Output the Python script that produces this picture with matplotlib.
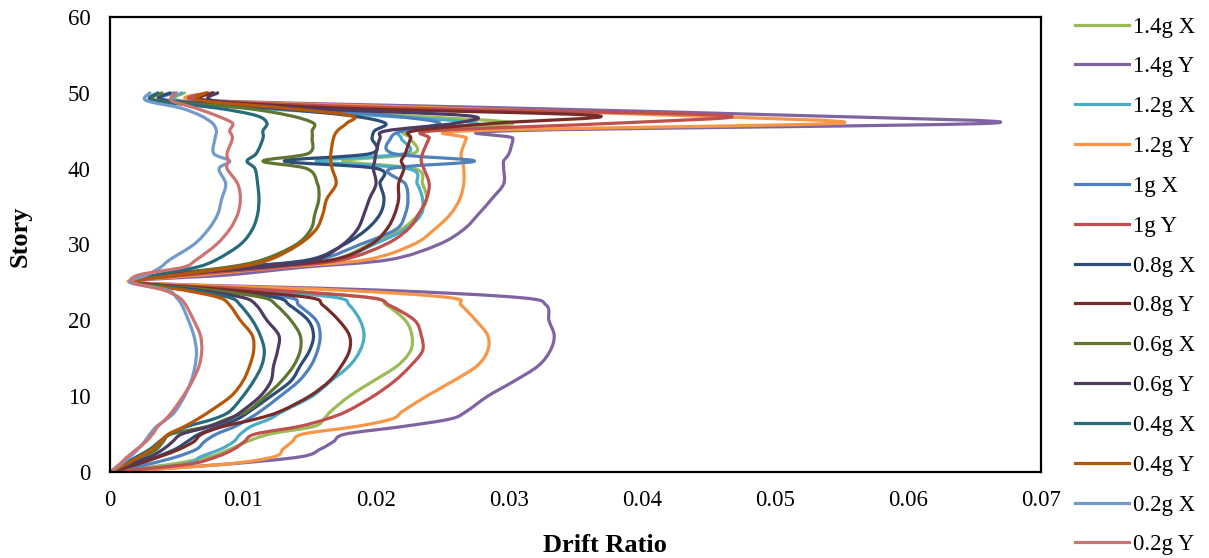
import numpy as np
import matplotlib
matplotlib.use("Agg")
import matplotlib.pyplot as plt
from matplotlib.path import Path
from matplotlib.patches import PathPatch
from matplotlib.lines import Line2D

plt.rcParams['font.family'] = ['Liberation Serif', 'DejaVu Serif']

# Story levels at which drift ratios are listed
stories = [0, 1, 2, 3, 4, 5, 6, 7, 8, 10, 12, 14, 16, 18, 20, 22, 23, 24, 25,
           26, 27, 28, 30, 32, 34, 36, 38, 40, 41, 42, 44, 45, 46, 47, 48, 49, 50]

drift_14g_x = [0, 0.0045, 0.0075, 0.0090, 0.0103, 0.0120, 0.0153, 0.0161, 0.0166, 0.0180, 0.0198, 0.0216, 0.0226,
               0.0227, 0.0222, 0.0208, 0.0195, 0.0120, 0.0017, 0.0055, 0.0120, 0.0168, 0.0195, 0.0219, 0.0232,
               0.0238, 0.0235, 0.0229, 0.0175, 0.0228, 0.0226, 0.0226, 0.0303, 0.0220, 0.0120, 0.0052, 0.0056]
drift_14g_y = [0, 0.0085, 0.0143, 0.0158, 0.0168, 0.0177, 0.0220, 0.0256, 0.0268, 0.0284, 0.0304, 0.0322, 0.0331,
               0.0334, 0.0330, 0.0328, 0.0308, 0.0200, 0.0017, 0.0090, 0.0145, 0.0210, 0.0247, 0.0266, 0.0277,
               0.0287, 0.0296, 0.0296, 0.0296, 0.0300, 0.0303, 0.0301, 0.0663, 0.0520, 0.0300, 0.0072, 0.0078]
drift_12g_x = [0, 0.0055, 0.0068, 0.0083, 0.0093, 0.0098, 0.0106, 0.0120, 0.0130, 0.0152, 0.0166, 0.0180, 0.0188,
               0.0191, 0.0188, 0.0180, 0.0170, 0.0110, 0.0017, 0.0050, 0.0110, 0.0170, 0.0198, 0.0222, 0.0234,
               0.0235, 0.0231, 0.0224, 0.0155, 0.0222, 0.0219, 0.0221, 0.0276, 0.0200, 0.0110, 0.0050, 0.0054]
drift_12g_y = [0, 0.0085, 0.0123, 0.0130, 0.0137, 0.0145, 0.0185, 0.0212, 0.0220, 0.0238, 0.0258, 0.0276, 0.0284,
               0.0284, 0.0275, 0.0264, 0.0255, 0.0170, 0.0017, 0.0070, 0.0130, 0.0193, 0.0228, 0.0244, 0.0256,
               0.0263, 0.0266, 0.0266, 0.0265, 0.0264, 0.0268, 0.0271, 0.0548, 0.0430, 0.0250, 0.0068, 0.0074]
drift_10g_x = [0, 0.0028, 0.0050, 0.0065, 0.0071, 0.0080, 0.0094, 0.0104, 0.0113, 0.0128, 0.0142, 0.0151, 0.0156,
               0.0158, 0.0155, 0.0142, 0.0135, 0.0085, 0.0017, 0.0045, 0.0100, 0.0156, 0.0188, 0.0215, 0.0222,
               0.0224, 0.0222, 0.0211, 0.0274, 0.0213, 0.0211, 0.0220, 0.0248, 0.0210, 0.0140, 0.0044, 0.0048]
drift_10g_y = [0, 0.0058, 0.0080, 0.0093, 0.0101, 0.0109, 0.0142, 0.0163, 0.0178, 0.0198, 0.0214, 0.0226, 0.0235,
               0.0234, 0.0229, 0.0210, 0.0195, 0.0120, 0.0017, 0.0060, 0.0125, 0.0175, 0.0207, 0.0224, 0.0232,
               0.0238, 0.0240, 0.0236, 0.0234, 0.0235, 0.0240, 0.0244, 0.0380, 0.0462, 0.0220, 0.0069, 0.0073]
drift_08g_x = [0, 0.0018, 0.0035, 0.0049, 0.0058, 0.0067, 0.0082, 0.0096, 0.0105, 0.0121, 0.0136, 0.0143, 0.0150,
               0.0153, 0.0149, 0.0135, 0.0125, 0.0080, 0.0017, 0.0045, 0.0095, 0.0150, 0.0176, 0.0193, 0.0203,
               0.0206, 0.0203, 0.0201, 0.0131, 0.0196, 0.0197, 0.0199, 0.0207, 0.0180, 0.0120, 0.0041, 0.0045]
drift_08g_y = [0, 0.0020, 0.0037, 0.0052, 0.0063, 0.0069, 0.0085, 0.0110, 0.0128, 0.0150, 0.0165, 0.0174, 0.0180,
               0.0180, 0.0172, 0.0160, 0.0150, 0.0090, 0.0017, 0.0050, 0.0110, 0.0168, 0.0196, 0.0208, 0.0214,
               0.0217, 0.0217, 0.0221, 0.0219, 0.0222, 0.0226, 0.0229, 0.0290, 0.0366, 0.0170, 0.0073, 0.0077]
drift_06g_x = [0, 0.0012, 0.0025, 0.0035, 0.0040, 0.0046, 0.0073, 0.0088, 0.0103, 0.0117, 0.0129, 0.0138, 0.0143,
               0.0143, 0.0136, 0.0125, 0.0115, 0.0075, 0.0017, 0.0040, 0.0088, 0.0115, 0.0140, 0.0151, 0.0154,
               0.0157, 0.0156, 0.0148, 0.0115, 0.0149, 0.0152, 0.0152, 0.0153, 0.0135, 0.0100, 0.0035, 0.0039]
drift_06g_y = [0, 0.0015, 0.0030, 0.0040, 0.0047, 0.0054, 0.0075, 0.0090, 0.0099, 0.0113, 0.0121, 0.0123, 0.0126,
               0.0127, 0.0118, 0.0110, 0.0100, 0.0065, 0.0017, 0.0040, 0.0115, 0.0155, 0.0175, 0.0186, 0.0191,
               0.0195, 0.0200, 0.0198, 0.0199, 0.0200, 0.0203, 0.0208, 0.0260, 0.0268, 0.0140, 0.0077, 0.0081]
drift_04g_x = [0, 0.0010, 0.0020, 0.0030, 0.0037, 0.0045, 0.0058, 0.0078, 0.0090, 0.0100, 0.0108, 0.0114, 0.0116,
               0.0113, 0.0107, 0.0098, 0.0090, 0.0060, 0.0017, 0.0035, 0.0065, 0.0080, 0.0098, 0.0107, 0.0111,
               0.0112, 0.0111, 0.0109, 0.0103, 0.0110, 0.0115, 0.0115, 0.0118, 0.0110, 0.0080, 0.0032, 0.0036]
drift_04g_y = [0, 0.0012, 0.0022, 0.0032, 0.0038, 0.0044, 0.0056, 0.0066, 0.0075, 0.0091, 0.0100, 0.0105, 0.0108,
               0.0107, 0.0098, 0.0090, 0.0082, 0.0055, 0.0017, 0.0050, 0.0095, 0.0120, 0.0142, 0.0155, 0.0160,
               0.0163, 0.0170, 0.0167, 0.0166, 0.0166, 0.0168, 0.0171, 0.0178, 0.0181, 0.0130, 0.0068, 0.0072]
drift_02g_x = [0, 0.0008, 0.0015, 0.0021, 0.0026, 0.0030, 0.0035, 0.0043, 0.0049, 0.0056, 0.0061, 0.0064, 0.0065,
               0.0063, 0.0059, 0.0054, 0.0050, 0.0043, 0.0015, 0.0028, 0.0038, 0.0045, 0.0063, 0.0074, 0.0081,
               0.0084, 0.0087, 0.0082, 0.0090, 0.0078, 0.0079, 0.0080, 0.0077, 0.0068, 0.0053, 0.0027, 0.0030]
drift_02g_y = [0, 0.0007, 0.0013, 0.0020, 0.0027, 0.0032, 0.0036, 0.0042, 0.0047, 0.0055, 0.0062, 0.0067, 0.0069,
               0.0068, 0.0063, 0.0057, 0.0052, 0.0040, 0.0017, 0.0022, 0.0055, 0.0065, 0.0080, 0.0090, 0.0096,
               0.0098, 0.0096, 0.0088, 0.0089, 0.0088, 0.0092, 0.0090, 0.0092, 0.0080, 0.0064, 0.0046, 0.0050]

series_labels = ['1.4g X', '1.4g Y', '1.2g X', '1.2g Y', '1g X', '1g Y', '0.8g X', '0.8g Y',
                 '0.6g X', '0.6g Y', '0.4g X', '0.4g Y', '0.2g X', '0.2g Y']
series_values = [drift_14g_x, drift_14g_y, drift_12g_x, drift_12g_y, drift_10g_x, drift_10g_y,
                 drift_08g_x, drift_08g_y, drift_06g_x, drift_06g_y, drift_04g_x, drift_04g_y,
                 drift_02g_x, drift_02g_y]
series_colors = ['#9BBB59', '#8064A2', '#4BACC6', '#F79646', '#4F81BD', '#C0504D', '#2C4D75', '#772C2A',
                 '#5F7530', '#4D3B62', '#276A7C', '#B65708', '#729ACA', '#CD7371']

x_ticks = [0, 0.01, 0.02, 0.03, 0.04, 0.05, 0.06, 0.07]
x_tick_labels = ['0', '0.01', '0.02', '0.03', '0.04', '0.05', '0.06', '0.07']
y_ticks = [0, 10, 20, 30, 40, 50, 60]

W, H = 1209, 558
fig = plt.figure(figsize=(W / 100, H / 100), dpi=100)
ax = fig.add_axes([110 / W, 86 / H, 931 / W, 455 / H])
ax.set_xlim(0, 0.07)
ax.set_ylim(0, 60)

# pixel scale of the axes, used so the curve smoothing behaves like a screen-space spline
sx = 931 / 0.07
sy = 455 / 60


def smooth_path(xs, ys):
    p = np.column_stack([np.asarray(xs, float) * sx, np.asarray(ys, float) * sy])
    n = len(p)
    verts = [p[0]]
    codes = [Path.MOVETO]
    for i in range(n - 1):
        p0 = p[i - 1] if i > 0 else p[i]
        p3 = p[i + 2] if i + 2 < n else p[i + 1]
        c1 = p[i] + (p[i + 1] - p0) / 6.0
        c2 = p[i + 1] - (p3 - p[i]) / 6.0
        verts += [c1, c2, p[i + 1]]
        codes += [Path.CURVE4] * 3
    v = np.array(verts)
    v[:, 0] /= sx
    v[:, 1] /= sy
    return Path(v, codes)


handles = []
for lab, vals, col in zip(series_labels, series_values, series_colors):
    patch = PathPatch(smooth_path(vals, stories), fill=False, edgecolor=col, lw=2.3,
                      capstyle='round', joinstyle='round')
    ax.add_patch(patch)
    handles.append(Line2D([], [], color=col, lw=2.3, label=lab))

ax.set_xticks(x_ticks)
ax.set_xticklabels(x_tick_labels)
ax.set_yticks(y_ticks)
ax.tick_params(axis='both', length=0, labelsize=16.5, colors='black')
ax.tick_params(axis='x', pad=13)
ax.tick_params(axis='y', pad=14)
for sp in ax.spines.values():
    sp.set_linewidth(1.6)
    sp.set_color('black')

fig.text(605 / W, 1 - 545 / H, 'Drift Ratio', ha='center', va='center', fontsize=19, fontweight='bold')
fig.text(20 / W, 1 - 236 / H, 'Story', ha='center', va='center', rotation=90, fontsize=19, fontweight='bold')

fig.legend(handles=handles, loc='center left', bbox_to_anchor=(1075 / W, 1 - 286 / H),
           frameon=False, fontsize=16.5, handlelength=2.35, handletextpad=0.2,
           labelspacing=0.82, borderpad=0, borderaxespad=0)

fig.savefig('out.png', dpi=100)
